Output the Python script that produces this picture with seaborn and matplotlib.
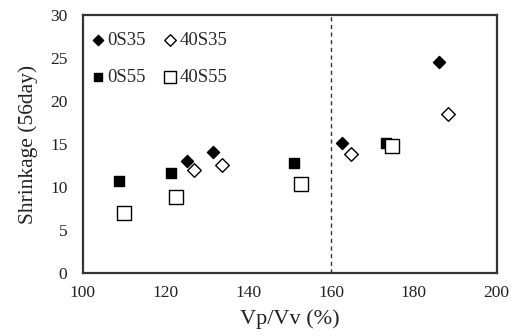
import matplotlib
matplotlib.use('Agg')
import matplotlib.pyplot as plt
import seaborn as sns
import pandas as pd

# values
x_0s35 = [125.1, 131.5, 162.7, 186.0]
y_0s35 = [13.0, 14.1, 15.1, 24.6]
x_40s35 = [126.8, 133.6, 164.9, 188.3]
y_40s35 = [12.0, 12.6, 13.8, 18.5]
x_0s55 = [108.7, 121.4, 151.1, 173.2]
y_0s55 = [10.7, 11.6, 12.75, 15.1]
x_40s55 = [110.0, 122.6, 152.7, 174.8]
y_40s55 = [7.0, 8.8, 10.3, 14.8]

x_ticks = [100, 120, 140, 160, 180, 200]
y_ticks = [0, 5, 10, 15, 20, 25, 30]
threshold = 160

sns.set_style('white')
plt.rcParams['font.family'] = ['Liberation Serif', 'DejaVu Serif']

fig = plt.figure(figsize=(5.14, 3.36), dpi=100)
ax = fig.add_axes([0.161, 0.188, 0.805, 0.766])

series = [
    ('0S35', x_0s35, y_0s35, 'D', 'black', 38),
    ('0S55', x_0s55, y_0s55, 's', 'black', 55),
    ('40S35', x_40s35, y_40s35, 'D', 'white', 48),
    ('40S55', x_40s55, y_40s55, 's', 'white', 95),
]
for name, xs, ys, mk, fc, sz in series:
    df = pd.DataFrame({'x': xs, 'y': ys})
    sns.scatterplot(data=df, x='x', y='y', marker=mk, color=fc,
                    edgecolor='black', linewidth=1.0, s=sz, ax=ax, label=name)

ax.axvline(threshold, color='#333333', linestyle=(0, (3, 2.5)), linewidth=1.0)

ax.set_xlim(100, 200)
ax.set_ylim(0, 30)
ax.set_xticks(x_ticks)
ax.set_yticks(y_ticks)
ax.tick_params(length=0, labelsize=12.5, colors='#222222')
ax.tick_params(axis='y', pad=11)
ax.tick_params(axis='x', pad=9)
for sp in ax.spines.values():
    sp.set_linewidth(1.6)
    sp.set_color('#333333')

ax.set_xlabel('Vp/Vv (%)', fontsize=16, color='#222222', labelpad=6)
ax.set_ylabel('Shrinkage (56day)', fontsize=15.5, color='#222222', labelpad=9)

ax.legend(ncol=2, frameon=False, loc='upper left', fontsize=13.5,
          bbox_to_anchor=(0.018, 0.937), borderpad=0, borderaxespad=0,
          handletextpad=0.1, columnspacing=0.9, labelspacing=1.05,
          handlelength=0.8, markerscale=0.85)

fig.savefig('out.png', dpi=100)
